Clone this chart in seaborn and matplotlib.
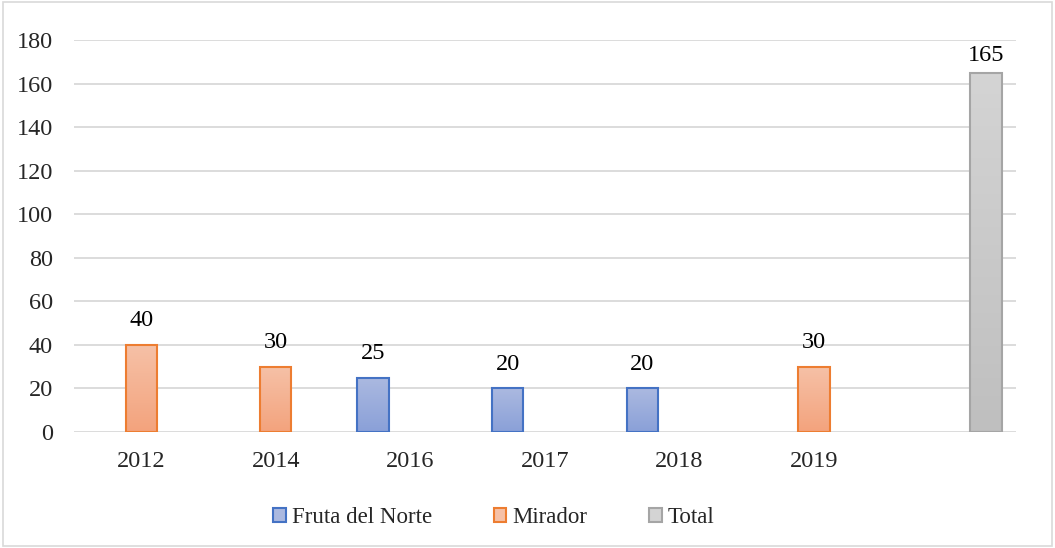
import numpy as np
import pandas as pd
import matplotlib.pyplot as plt
import seaborn as sns
from matplotlib.patches import Patch, Rectangle

# chart data
years = ['2012', '2014', '2016', '2017', '2018', '2019', '']
series = ['Fruta del Norte', 'Mirador', 'Total']
fruta_years = ['2016', '2017', '2018']
fruta_vals = [25, 20, 20]
mirador_years = ['2012', '2014', '2019']
mirador_vals = [40, 30, 30]
total_years = ['']
total_vals = [165]

df = pd.concat([
    pd.DataFrame({'year': fruta_years, 'value': fruta_vals, 'series': 'Fruta del Norte'}),
    pd.DataFrame({'year': mirador_years, 'value': mirador_vals, 'series': 'Mirador'}),
    pd.DataFrame({'year': total_years, 'value': total_vals, 'series': 'Total'}),
], ignore_index=True)

edge = {'Fruta del Norte': '#4472c4', 'Mirador': '#ed7d31', 'Total': '#a5a5a5'}
grad = {'Fruta del Norte': ('#abb9e0', '#8aa0d8'),
        'Mirador': ('#f6c1a7', '#f3a37d'),
        'Total': ('#d4d4d4', '#bfbfbf')}

sns.set_style('white')
plt.rcParams['font.family'] = ['Liberation Serif', 'DejaVu Serif']

fig = plt.figure(figsize=(10.55, 5.48), dpi=100)
ax = fig.add_axes([0.070, 0.2117, 0.893, 0.7153])

sns.barplot(data=df, x='year', y='value', hue='series', order=years,
            hue_order=series, palette=edge, width=0.83, gap=0.16, dodge=True,
            errorbar=None, legend=False, ax=ax)

ax.set_ylim(0, 180)
xlim = ax.get_xlim()

# gradient fills clipped to each bar
for cont, name in zip(ax.containers, series):
    top, bot = grad[name]
    cmap = sns.blend_palette([bot, top], as_cmap=True)
    for bar in cont:
        bar.set_facecolor('none')
        bar.set_edgecolor(edge[name])
        bar.set_linewidth(1.5)
        bar.set_zorder(3)
        x0, y0 = bar.get_x(), bar.get_y()
        w, h = bar.get_width(), bar.get_height()
        im = ax.imshow(np.linspace(0, 1, 100).reshape(-1, 1), cmap=cmap,
                       extent=[x0, x0 + w, y0, y0 + h], origin='lower',
                       aspect='auto', zorder=2)
        im.set_clip_path(bar)
    pad = 5 if name == 'Total' else 10
    ax.bar_label(cont, fmt='%g', padding=pad, fontsize=17.5, color='black')

ax.set_xlim(xlim)
ax.set_ylim(0, 180)
ax.set_yticks(range(0, 181, 20))
ax.yaxis.grid(True, color='#d9d9d9', linewidth=1.3)
ax.set_axisbelow(True)
ax.tick_params(axis='y', length=0, pad=15, labelsize=17.5)
ax.tick_params(axis='x', length=0, pad=14, labelsize=17.5)
ax.set_xlabel('')
ax.set_ylabel('')
sns.despine(ax=ax, left=True, bottom=True)

handles = [Patch(facecolor=grad[s][0], edgecolor=edge[s], linewidth=1.5) for s in series]
fig.legend(handles, series, loc='center', bbox_to_anchor=(0.468, 0.055), ncol=3,
           frameon=False, fontsize=16.5, handlelength=0.55, handleheight=0.55,
           handletextpad=0.25, columnspacing=2.7)

fig.patches.append(Rectangle((0.003, 0.004), 0.994, 0.992, transform=fig.transFigure,
                             fill=False, edgecolor='#d9d9d9', linewidth=1.2))

fig.savefig('out.png', dpi=100)
